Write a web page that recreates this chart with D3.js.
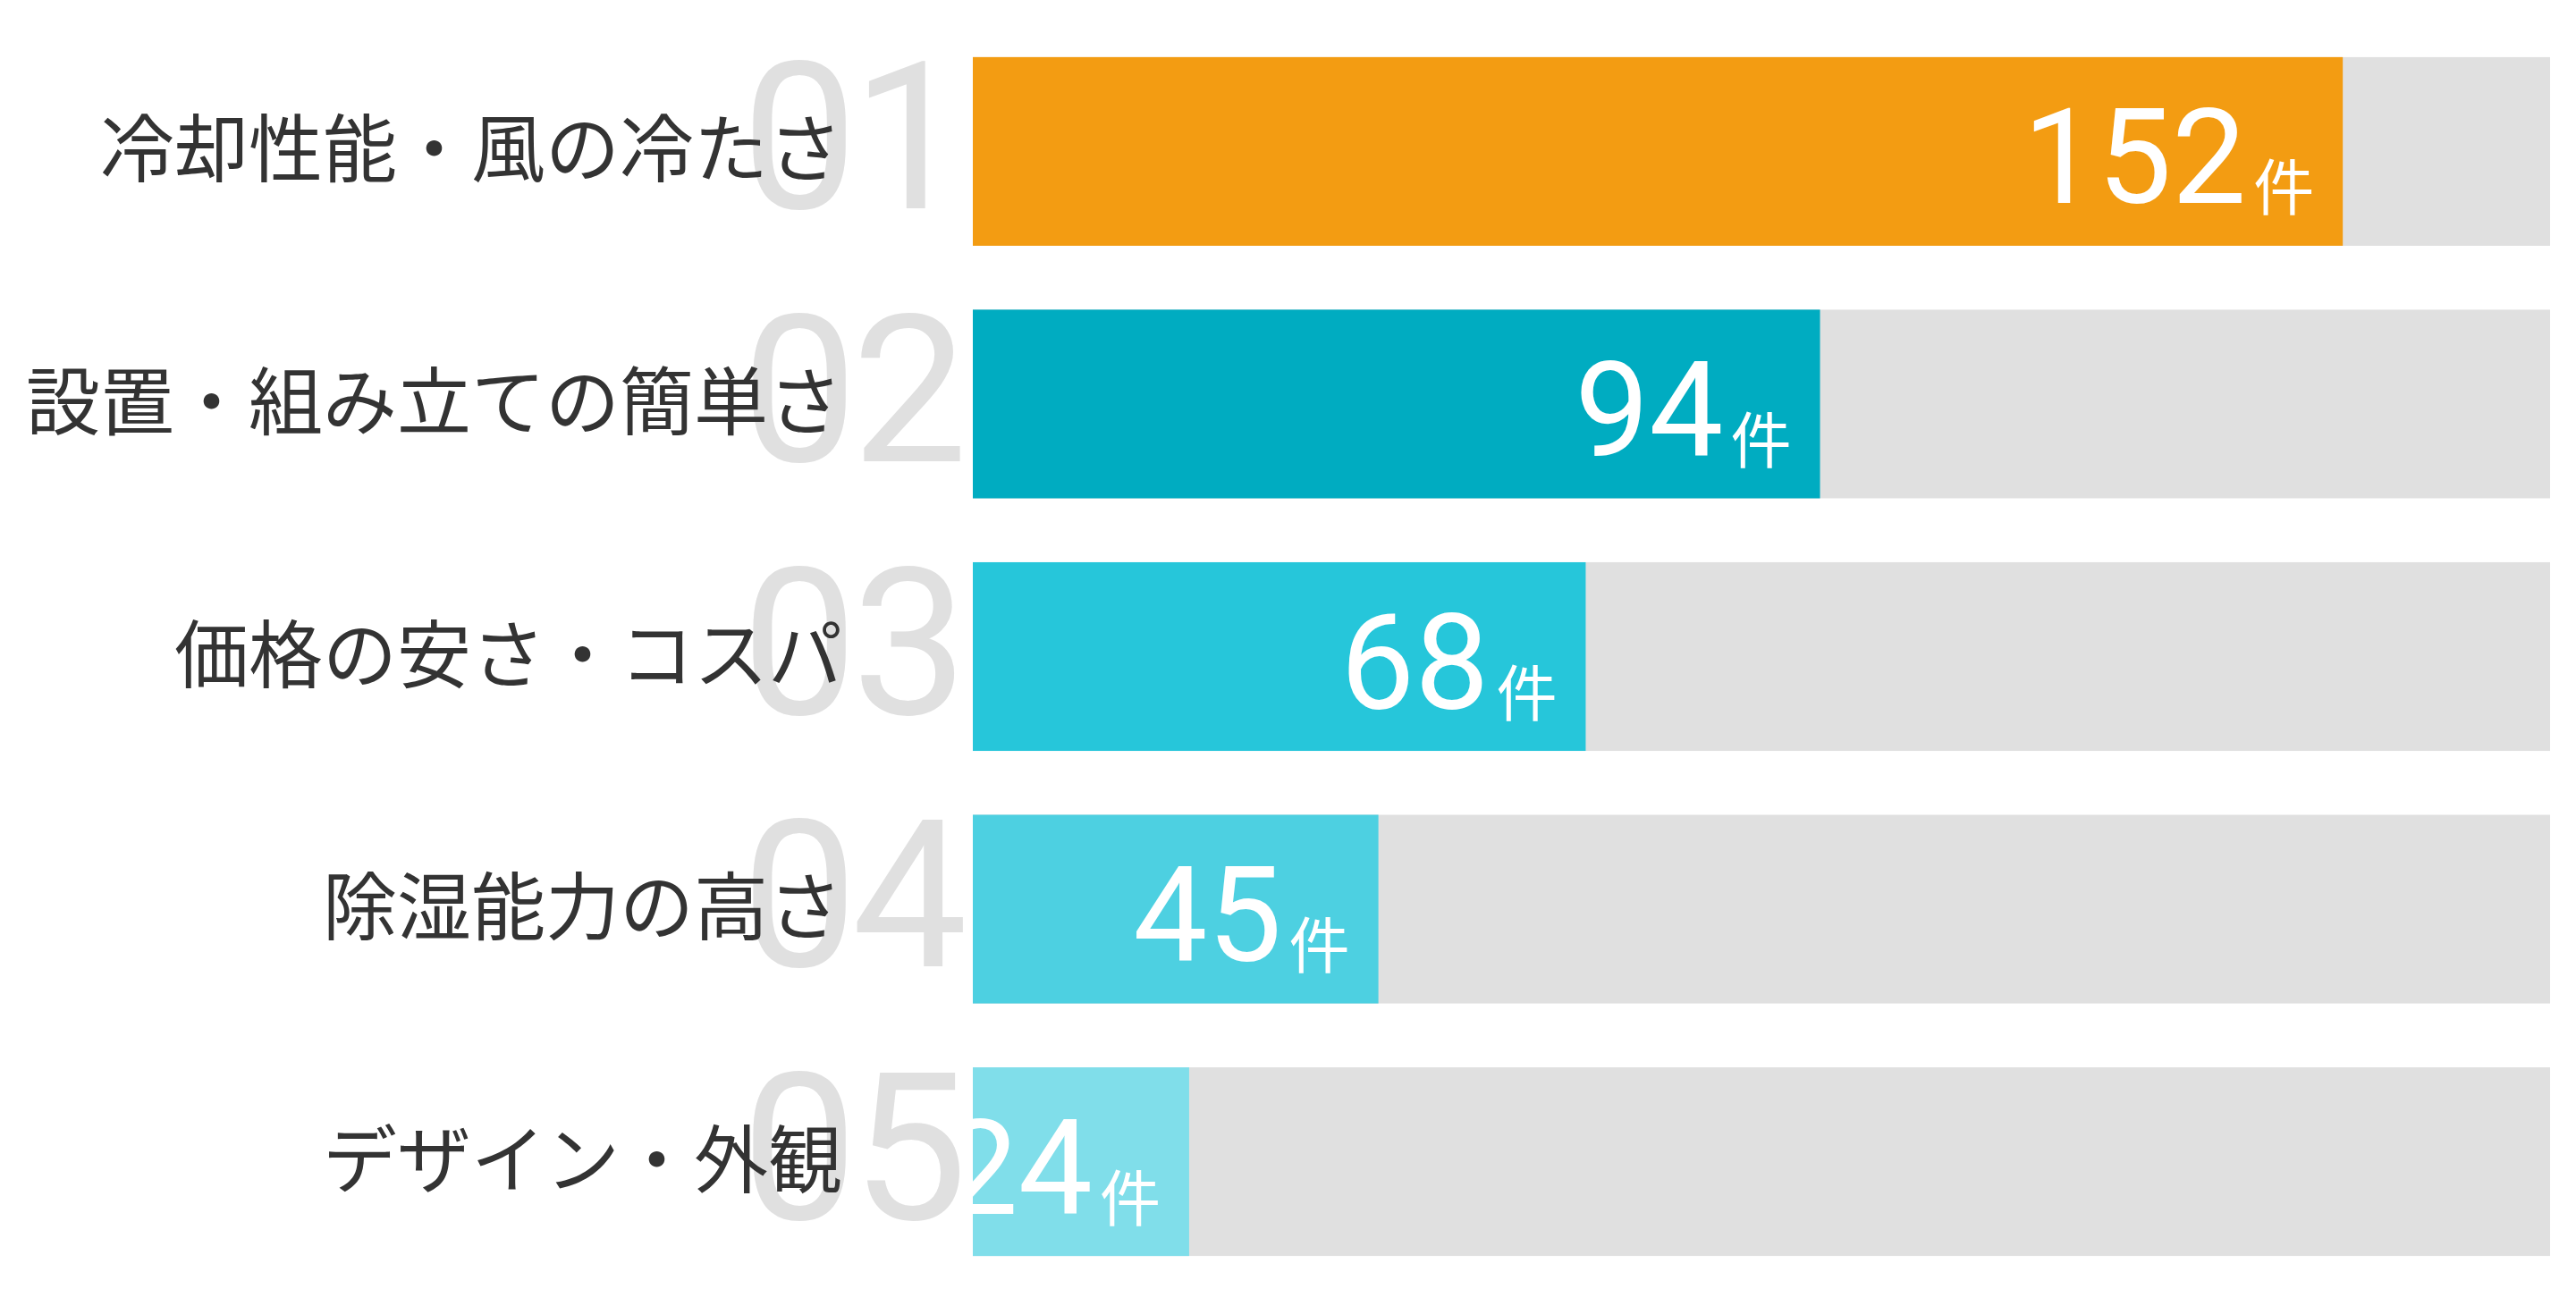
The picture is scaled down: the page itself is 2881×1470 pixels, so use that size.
<!DOCTYPE html>
<html>
<head>
<meta charset="utf-8">
<script src="https://cdn.jsdelivr.net/npm/d3@7"></script>
<style>
  body { margin: 0; background: #fff; }
  svg { display: block; }
</style>
</head>
<body>
<div id="plotdiv"></div>
<script>
// Size of the figure
var outerWidth = 2881;
var outerHeight = 1470;

// Data
var ranks = ["01", "02", "03", "04", "05"];
var labels = ["冷却性能・風の冷たさ", "設置・組み立ての簡単さ", "価格の安さ・コスパ", "除湿能力の高さ", "デザイン・外観"];
var counts = [152, 94, 68, 45, 24];
var unit = "件";
var xMax = 175;

var palette = ["#F39C12", "#00ACC1", "#26C6DA", "#4DD0E1", "#80DEEA"];

var vis = d3.select("#plotdiv").append("svg")
  .attr("width", outerWidth)
  .attr("height", outerHeight);

// Scales
var xScale = d3.scaleLinear()
  .domain([0, xMax])
  .range([1088, 2852]);
var yScale = d3.scaleBand()
  .domain(ranks)
  .range([28, 1441])
  .paddingInner(0.253)
  .paddingOuter(0.127);
var cScale = d3.scaleOrdinal()
  .domain(ranks)
  .range(palette);

var rows = ranks.map(function(r, i) {
  return {rank: r, label: labels[i], count: counts[i]};
});

// Clip value labels to the bar area
vis.append("defs").append("clipPath")
  .attr("id", "barClip")
  .append("rect")
  .attr("x", xScale(0))
  .attr("y", 0)
  .attr("width", xScale(xMax) - xScale(0))
  .attr("height", outerHeight);

// Background tracks
vis.append("g").selectAll("rect").data(rows).enter().append("rect")
  .attr("x", xScale(0))
  .attr("y", function(d) { return yScale(d.rank); })
  .attr("width", xScale(xMax) - xScale(0))
  .attr("height", yScale.bandwidth())
  .attr("fill", "#E0E0E0");

// Big rank numbers behind labels
vis.append("g").selectAll("text").data(rows).enter().append("text")
  .attr("x", xScale(0) - 12)
  .attr("y", function(d) { return yScale(d.rank) + yScale.bandwidth() / 2 + 64; })
  .attr("text-anchor", "end")
  .attr("font-family", "Roboto, 'Noto Sans', sans-serif")
  .attr("font-size", 230)
  .attr("letter-spacing", -6)
  .attr("fill", "#E0E0E0")
  .text(function(d) { return d.rank; });

// Category labels
vis.append("g").selectAll("text").data(rows).enter().append("text")
  .attr("x", 942)
  .attr("y", function(d) { return yScale(d.rank) + yScale.bandwidth() / 2 - 8; })
  .attr("text-anchor", "end")
  .attr("dominant-baseline", "central")
  .attr("font-family", "'Noto Sans CJK JP', sans-serif")
  .attr("font-size", 83)
  .attr("fill", "#333333")
  .text(function(d) { return d.label; });

// Bars
vis.append("g").selectAll("rect").data(rows).enter().append("rect")
  .attr("x", xScale(0))
  .attr("y", function(d) { return yScale(d.rank); })
  .attr("width", function(d) { return xScale(d.count) - xScale(0); })
  .attr("height", yScale.bandwidth())
  .attr("fill", function(d) { return cScale(d.rank); });

// Value labels
var vals = vis.append("g")
  .attr("clip-path", "url(#barClip)")
  .selectAll("text").data(rows).enter().append("text")
  .attr("x", function(d) { return xScale(d.count) - 32; })
  .attr("y", function(d) { return yScale(d.rank) + yScale.bandwidth() / 2 + 58; })
  .attr("text-anchor", "end")
  .attr("fill", "#ffffff");

vals.append("tspan")
  .attr("font-family", "Roboto, 'Noto Sans', sans-serif")
  .attr("font-size", 148)
  .text(function(d) { return d.count; });

vals.append("tspan")
  .attr("dx", 8)
  .attr("dy", 8)
  .attr("font-family", "'Noto Sans CJK JP', sans-serif")
  .attr("font-size", 68)
  .text(unit);
</script>
</body>
</html>
